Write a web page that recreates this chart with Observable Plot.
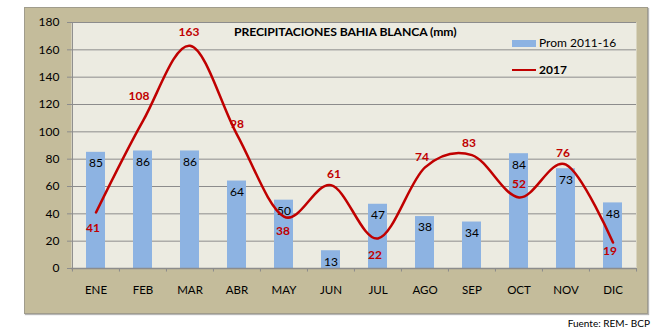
<!DOCTYPE html>
<html>
<head>
<meta charset="utf-8">
<script src="https://cdn.jsdelivr.net/npm/d3@7"></script>
<script src="https://cdn.jsdelivr.net/npm/@observablehq/plot@0.6"></script>
<style>
  html, body { margin: 0; padding: 0; background: #ffffff; }
  #wrap { position: relative; width: 657px; height: 334px; font-family: Lato, "Open Sans", sans-serif; }
  #frame { position: absolute; left: 24px; top: 7px; width: 622px; height: 305px; background: #c4bc9b; border: 1px solid #a09c8c; box-shadow: 1px 1px 1px #b5b5b5; }
  #chart { position: absolute; left: 0; top: 0; }
  .abs { position: absolute; white-space: nowrap; color: #000; }
  #title { left: 234px; top: 24px; font-size: 12.2px; font-weight: bold; letter-spacing: -0.1px; }
  #lg1box { left: 512px; top: 40px; width: 24px; height: 7px; background: #8db3e2; }
  #lg1 { left: 539px; top: 35px; font-size: 12px; }
  #lg2line { left: 512px; top: 69px; width: 24px; height: 2px; background: #c00000; }
  #lg2 { left: 539px; top: 62px; font-size: 12px; font-weight: bold; }
  #source { right: 7px; top: 317px; font-size: 10px; }
</style>
</head>
<body>
<div id="wrap">
  <div id="frame"></div>
  <div id="chart"></div>
  <div class="abs" id="title">PRECIPITACIONES BAHIA BLANCA (mm)</div>
  <div class="abs" id="lg1box"></div>
  <div class="abs" id="lg1">Prom 2011-16</div>
  <div class="abs" id="lg2line"></div>
  <div class="abs" id="lg2">2017</div>
  <div class="abs" id="source">Fuente: REM- BCP</div>
</div>
<script>
const months = ["ENE","FEB","MAR","ABR","MAY","JUN","JUL","AGO","SEP","OCT","NOV","DIC"];
const prom = [85, 86, 86, 64, 50, 13, 47, 38, 34, 84, 73, 48];
const y2017 = [41, 108, 163, 98, 38, 61, 22, 74, 83, 52, 76, 19];
const yTicks = [0, 20, 40, 60, 80, 100, 120, 140, 160, 180];

// label offsets (style, px) for the 2017 value labels
const labelDy = [16, -25, -14, -10, 15, -11, 17, -10, -12, -13, -11, 9];
const labelDx = [-3, -4, -1, 0, -1, 3, -3, -3, -3, 0, -3, -3];

const data = months.map((m, i) => ({month: m, prom: prom[i], v: y2017[i], i}));

const W = 657, H = 334, mL = 71, mR = 21, mT = 22, mB = 66;
const step = (W - mL - mR) / months.length;
const grid = "#8c8c8c";
const red = "#c00000";

const redLabels = data.map((d, i) =>
  Plot.text([d], {x: "month", y: "v", text: d => String(d.v), dy: labelDy[i], dx: labelDx[i],
    fill: red, fontWeight: "bold", fontSize: 12})
);

const chart = Plot.plot({
  width: W, height: H,
  marginLeft: mL, marginRight: mR, marginTop: mT, marginBottom: mB,
  style: {background: "transparent", fontFamily: "Lato, 'Open Sans', sans-serif", fontSize: "12px", color: "#000", overflow: "visible"},
  x: {domain: months, paddingInner: 0.6, paddingOuter: 0.3, axis: null},
  y: {domain: [0, 180], axis: null},
  marks: [
    Plot.frame({fill: "#ecebe1", stroke: null}),
    Plot.gridY(yTicks, {stroke: grid, strokeOpacity: 1, strokeWidth: 1}),
    Plot.axisY(yTicks, {tickSize: 4, tickPadding: 8, stroke: grid, fontSize: 12, label: null, fill: "#000"}),
    Plot.axisX({tickSize: 0, tickPadding: 17, fontSize: 11.5, label: null, fill: "#000"}),
    Plot.barY(data, {x: "month", y: "prom", fill: "#8db3e2"}),
    Plot.text(data, {x: "month", y: "prom", text: d => String(d.prom), dy: 11, fill: "#000", fontSize: 12}),
    Plot.ruleX([months[0]], {x: d => d, dx: -step / 2, y1: 0, y2: 180, stroke: grid, strokeWidth: 1}),
    Plot.ruleX(months, {x: d => d, dx: -step / 2, y1: 0, y2: -2.6, stroke: grid, strokeWidth: 1}),
    Plot.ruleX([months[months.length - 1]], {x: d => d, dx: step / 2, y1: 0, y2: -2.6, stroke: grid, strokeWidth: 1}),
    Plot.ruleY([0], {stroke: grid, strokeWidth: 1.5}),
    Plot.line(data, {x: "month", y: "v", curve: "cardinal", stroke: red, strokeWidth: 2.5}),
    ...redLabels
  ]
});
document.getElementById("chart").appendChild(chart);
</script>
</body>
</html>
